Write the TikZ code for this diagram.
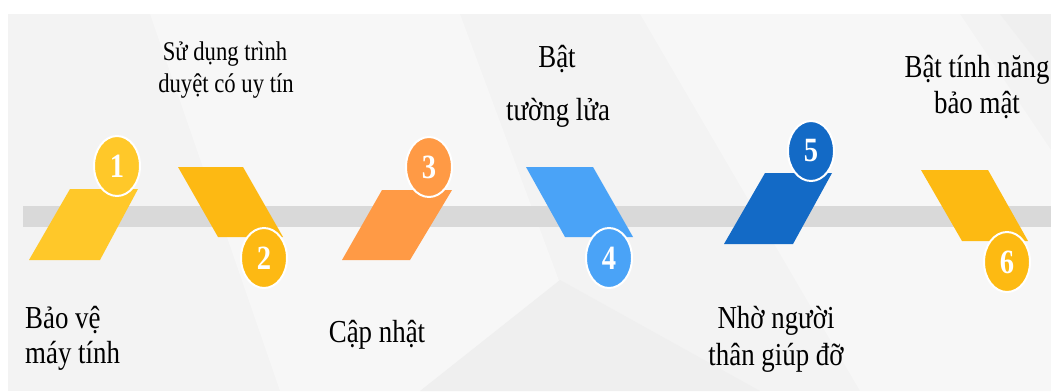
\documentclass[tikz,border=0pt]{standalone}
\usepackage{fontspec}
\setmainfont{Liberation Serif}
\usetikzlibrary{shapes.geometric}

\definecolor{bgpanel}{HTML}{F3F3F3}
\definecolor{bglight}{HTML}{F7F7F7}
\definecolor{bgdark}{HTML}{EFEFEF}
\definecolor{barline}{HTML}{D9D9D9}
\definecolor{cYellowA}{HTML}{FFC829}
\definecolor{cYellowB}{HTML}{FDB913}
\definecolor{cOrange}{HTML}{FF9A45}
\definecolor{cSky}{HTML}{4AA3F7}
\definecolor{cBlue}{HTML}{136AC6}
\definecolor{cYellowC}{HTML}{FDBA12}

\newcommand{\narrow}[1]{\scalebox{0.84}[1]{#1}}
\newcommand{\bigtxt}{\fontsize{32}{36}\selectfont}
\newcommand{\smalltxt}{\fontsize{27}{32}\selectfont}

\tikzset{
  label big/.style={font=\bigtxt, inner sep=0pt, text=black},
  label small/.style={font=\smalltxt, inner sep=0pt, text=black},
  badge/.style={ellipse, draw=white, line width=2pt, minimum width=46pt,
    minimum height=60pt, inner sep=0pt, text=white,
    font=\fontsize{34}{34}\selectfont\bfseries},
}

\begin{document}
\begin{tikzpicture}[x=1pt, y=-1pt]
  \useasboundingbox (0,0) rectangle (1051,391);
  \fill[white] (0,0) rectangle (1051,391);

  % faceted light panel
  \fill[bgpanel] (8,14) rectangle (1051,391);
  \fill[bglight] (150,14) -- (460,14) -- (600,391) -- (280,391) -- cycle;
  \fill[bglight] (640,14) -- (960,14) -- (1051,150) -- (1051,391) -- (860,391) -- cycle;
  \fill[bgdark] (560,280) -- (760,391) -- (420,391) -- cycle;
  \fill[bgdark] (1000,14) -- (1051,14) -- (1051,80) -- cycle;

  % timeline bar
  \fill[barline] (23,206) rectangle (1051,227);

  % step shapes
  \fill[cYellowA] (70,189) -- (138,189) -- (100,260) -- (29,260) -- cycle;
  \fill[cYellowB] (178,167) -- (243,167) -- (283,237) -- (218,237) -- cycle;
  \fill[cOrange] (382,190) -- (452,190) -- (410,260) -- (342,260) -- cycle;
  \fill[cSky] (526,167) -- (593,167) -- (633,237) -- (565,237) -- cycle;
  \fill[cBlue] (765,173) -- (832,173) -- (793,244) -- (724,244) -- cycle;
  \fill[cYellowC] (921,170) -- (988,170) -- (1028,241) -- (962,241) -- cycle;

  % numbered badges
  \node[badge, fill=cYellowA] (b1) at (117,166) {\narrow{1}};
  \node[badge, fill=cYellowB] (b2) at (264,258) {\narrow{2}};
  \node[badge, fill=cOrange]  (b3) at (429,167) {\narrow{3}};
  \node[badge, fill=cSky]     (b4) at (609,258) {\narrow{4}};
  \node[badge, fill=cBlue]    (b5) at (811,151) {\narrow{5}};
  \node[badge, fill=cYellowC] (b6) at (1007,262) {\narrow{6}};

  % step labels
  \node[label big, anchor=base west] (t1a) at (25,328) {\narrow{Bảo vệ}};
  \node[label big, anchor=base west] (t1b) at (25,363) {\narrow{máy tính}};

  \node[label small, anchor=base] (t2a) at (225,60) {\narrow{Sử dụng trình}};
  \node[label small, anchor=base] (t2b) at (226,92) {\narrow{duyệt có uy tín}};

  \node[label big, anchor=base] (t3) at (377,342) {\narrow{Cập nhật}};

  \node[label big, anchor=base] (t4a) at (557,67) {\narrow{Bật}};
  \node[label big, anchor=base] (t4b) at (558,120) {\narrow{tường lửa}};

  \node[label big, anchor=base] (t5a) at (776,328) {\narrow{Nhờ người}};
  \node[label big, anchor=base] (t5b) at (776,365) {\narrow{thân giúp đỡ}};

  \node[label big, anchor=base] (t6a) at (977,77) {\narrow{Bật tính năng}};
  \node[label big, anchor=base] (t6b) at (977,113) {\narrow{bảo mật}};
\end{tikzpicture}
\end{document}
